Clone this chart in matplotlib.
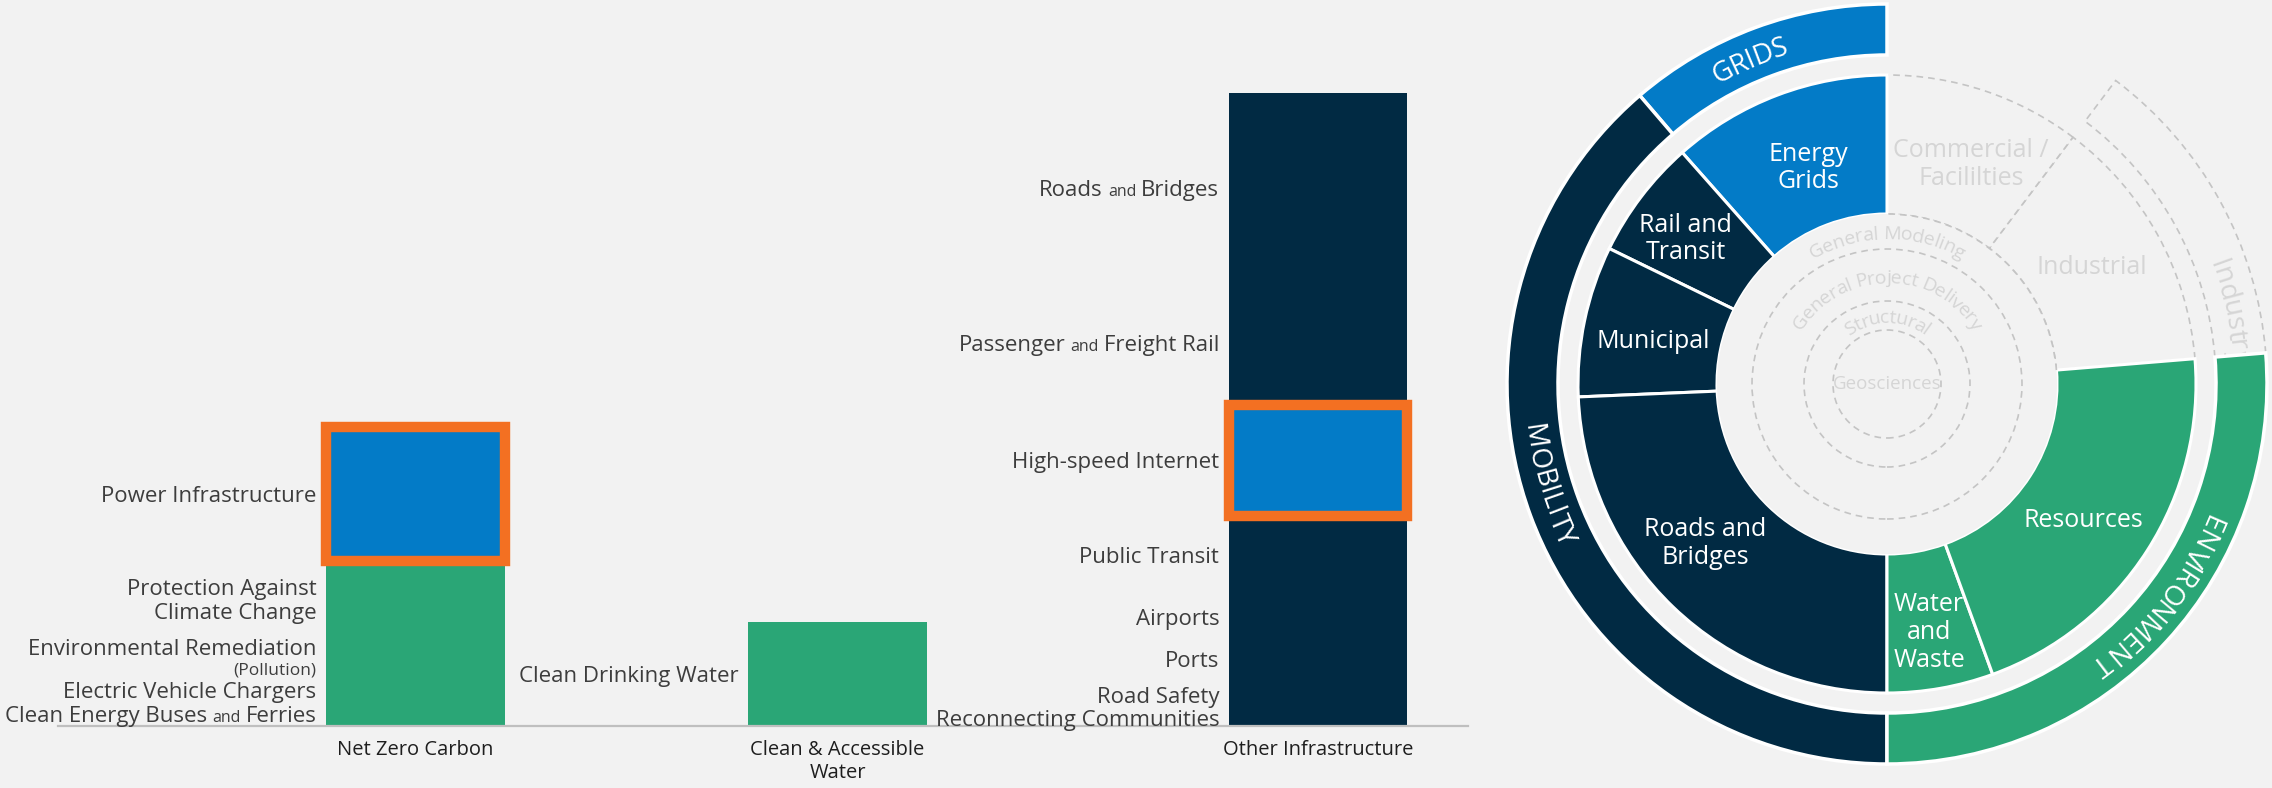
import matplotlib
matplotlib.use('Agg')
import matplotlib.pyplot as plt
import numpy as np
from matplotlib.patches import Wedge, Rectangle, Circle, Arc
from matplotlib.transforms import offset_copy

plt.rcParams['font.family'] = ['Open Sans', 'DejaVu Sans']

##
# DATA
categories = ['Net Zero Carbon', 'Clean & Accessible\nWater', 'Other Infrastructure']

# stacked segments, bottom to top (approx. $B)
net_zero_labels = ['Clean Energy Buses and Ferries', 'Electric Vehicle Chargers',
                   'Environmental Remediation\n(Pollution)', 'Protection Against\nClimate Change',
                   'Power Infrastructure']
net_zero_values = [12.6, 12.6, 21.6, 40.0, 70.5]
water_labels = ['Clean Drinking Water']
water_values = [54.7]
other_labels = ['Reconnecting Communities', 'Road Safety', 'Ports', 'Airports', 'Public Transit',
                'High-speed Internet', 'Passenger and Freight Rail', 'Roads and Bridges']
other_values = [7.9, 16.8, 21.0, 23.7, 41.3, 58.4, 64.5, 99.5]
highlighted = ['Power Infrastructure', 'High-speed Internet']

# wheel: angular spans in degrees, counter-clockwise from the start angle
sector_labels = ['Industrial', 'Commercial /\nFacililties', 'Energy\nGrids', 'Rail and\nTransit',
                 'Municipal', 'Roads and\nBridges', 'Water\nand\nWaste', 'Resources']
sector_spans = [48.3, 37.0, 41.5, 22.5, 28.4, 87.6, 20.0, 74.7]
sector_group = ['none', 'none', 'grids', 'mobility', 'mobility', 'mobility', 'env', 'env']
ring_labels = ['Industry', '', 'GRIDS', 'MOBILITY', 'ENVIRONMENT']
ring_spans = [48.3, 37.0, 40.6, 139.4, 94.7]
ring_group = ['none', 'blank', 'grids', 'mobility', 'env']
hub_labels = ['General Modeling', 'General Project Delivery', 'Structural', 'Geosciences']

##
# STYLE / LAYOUT
BG = '#f2f2f2'
NAVY = '#012a43'
BLUE = '#037bc7'
GREEN = '#2aa676'
ORANGE = '#f37022'
TXT = '#3d3d3d'
FAINT = '#d5d5d5'
DASH = '#c4c4c4'
group_color = {'grids': BLUE, 'mobility': NAVY, 'env': GREEN}
BIG, SMALL, PAREN = 16, 11.5, 12.5
# label placement (angle, radius) inside the wheel
sector_label_pos = [(29.6, 235), (69.1, 235), (110.1, 230), (144.2, 248),
                    (169.8, 238), (221.3, 242), (279.6, 252), (325.2, 239)]
ring_label_angle = [20.5, None, 113.0, 196.5, 322.0]

fig = plt.figure(figsize=(22.72, 7.88), dpi=100, facecolor=BG)
renderer = fig.canvas.get_renderer()


def width_px(s, size):
    t = fig.text(0, 0, s, fontsize=size)
    w = t.get_window_extent(renderer).width
    t.remove()
    return w


def split_line(ln):
    if ln.startswith('('):
        return [(ln, PAREN)]
    out = []
    for i, p in enumerate(ln.split(' and ')):
        if i:
            out.append(('and', SMALL))
        out.append((p, BIG))
    return out


def rich_label(ax, x, y, text, gap=10):
    """right-aligned label, small 'and' / '(...)' pieces"""
    lines = [split_line(ln) for ln in text.split('\n')]
    sizes = [max(s for _, s in ln) * 100 / 72 for ln in lines]
    centers = [0.0]
    for k in range(1, len(lines)):
        centers.append(centers[-1] - 0.55 * (sizes[k - 1] + sizes[k]))
    shift = (centers[0] + centers[-1]) / 2
    for ln, sz, c in zip(lines, sizes, centers):
        yoff = c - shift - 0.36 * sz
        xoff = -gap
        for txt, fs in reversed(ln):
            tr = offset_copy(ax.transData, fig=fig, x=xoff, y=yoff, units='dots')
            ax.text(x, y, txt, ha='right', va='baseline', fontsize=fs, color=TXT, transform=tr)
            xoff -= width_px(txt, fs) + 5


##
# BAR CHART
ax = fig.add_axes([58 / 2272, 62 / 788, 1410 / 2272, 686 / 788])
ax.set_facecolor('none')
PX = 1.9  # pixels per unit
ax.set_ylim(0, 686 / PX)
pos = [0, 1, 2.139]
bw = 0.422
ax.set_xlim(-0.847, 2.494)

stacks = [(net_zero_labels, net_zero_values, GREEN),
          (water_labels, water_values, GREEN),
          (other_labels, other_values, NAVY)]
for p, (labels, values, base) in zip(pos, stacks):
    bottom = 0
    for lab, val in zip(labels, values):
        hl = lab in highlighted
        ax.bar(p, val, bottom=bottom, width=bw, color=BLUE if hl else base, linewidth=0)
        if hl:
            ax.add_patch(Rectangle((p - bw / 2, bottom), bw, val, fill=False,
                                   edgecolor=ORANGE, lw=7.5, clip_on=False, zorder=4))
        rich_label(ax, p - bw / 2, bottom + val / 2, lab)
        bottom += val

for s in ['top', 'right', 'left']:
    ax.spines[s].set_visible(False)
ax.spines['bottom'].set_color('#bfbfbf')
ax.spines['bottom'].set_linewidth(1.6)
ax.set_yticks([])
ax.set_xticks(pos, categories)
ax.tick_params(axis='x', length=0, pad=10, labelsize=14.5, labelcolor='#1e1e1e')

##
# WHEEL
ax2 = fig.add_axes([1440 / 2272, 0, 832 / 2272, 1])
ax2.set_xlim(1440, 2272)
ax2.set_ylim(0, 788)
ax2.axis('off')
cx, cy = 1887, 404
R_HUB, R_IN, R_RING, R_OUT = 170, 309, 329, 380
START = 4.7


def polar(r, th):
    return cx + r * np.cos(np.radians(th)), cy + r * np.sin(np.radians(th))


def arc_text(s, r, th_c, size, color, cw=True, zorder=6, anchor='center'):
    total = width_px(s, size)
    half_cap = 0.36 * size * 100 / 72
    rb = r - half_cap if cw else r + half_cap
    if anchor == 'start':  # th_c is where the text begins
        th_c = th_c - np.degrees(total / 2 / r) if cw else th_c + np.degrees(total / 2 / r)
    for i, ch in enumerate(s):
        if ch == ' ':
            continue
        c = width_px(s[:i + 1], size) - width_px(ch, size) / 2 - total / 2
        d = np.degrees(c / r)
        th = th_c - d if cw else th_c + d
        rot = th - 90 if cw else th + 90
        x, y = polar(rb, th)
        ax2.text(x, y, ch, rotation=rot, rotation_mode='anchor', ha='center', va='baseline',
                 fontsize=size, color=color, zorder=zorder)


a0 = START
for lab, span, grp, (th_l, r_l) in zip(sector_labels, sector_spans, sector_group, sector_label_pos):
    a1 = a0 + span
    if grp == 'none':
        ax2.add_patch(Wedge((cx, cy), R_IN, a0, a1, width=R_IN - R_HUB, facecolor=BG,
                            edgecolor=DASH, lw=1.2, ls=(0, (4, 3)), zorder=1))
        col = FAINT
    else:
        ax2.add_patch(Wedge((cx, cy), R_IN, a0, a1, width=R_IN - R_HUB,
                            facecolor=group_color[grp], edgecolor='white', lw=2.2, zorder=2))
        col = 'white'
    x, y = polar(r_l, th_l)
    ax2.text(x, y, lab, ha='center', va='center', fontsize=18, color=col, linespacing=1.15, zorder=6)
    a0 = a1

a0 = START
rm = (R_RING + R_OUT) / 2
for lab, span, grp, th_l in zip(ring_labels, ring_spans, ring_group, ring_label_angle):
    a1 = a0 + span
    if grp == 'none':
        ax2.add_patch(Wedge((cx, cy), R_OUT, a0, a1, width=R_OUT - R_RING, facecolor=BG,
                            edgecolor=DASH, lw=1.2, ls=(0, (4, 3)), zorder=1))
        # runs underneath the next ring segment, as in the source graphic
        arc_text(lab, rm, th_l, 20, FAINT, cw=True, zorder=1.5, anchor='start')
    elif grp != 'blank':
        ax2.add_patch(Wedge((cx, cy), R_OUT, a0, a1, width=R_OUT - R_RING,
                            facecolor=group_color[grp], edgecolor='white', lw=2.5, zorder=2))
        arc_text(lab, rm, th_l, 20, 'white', cw=(grp != 'mobility'))
    a0 = a1

# hub
ax2.add_patch(Circle((cx, cy), R_HUB, facecolor=BG, edgecolor='none', zorder=3))
ax2.add_patch(Arc((cx, cy), 2 * R_HUB, 2 * R_HUB, theta1=START, theta2=90, color=DASH,
                  lw=1.2, ls=(0, (4, 3)), zorder=4))
for r in [135, 83, 54]:
    ax2.add_patch(Circle((cx, cy), r, fill=False, edgecolor=DASH, lw=1.2, ls=(0, (4, 3)), zorder=4))
for lab, r in zip(hub_labels[:3], [152, 108, 68]):
    arc_text(lab, r, 90, 14, FAINT, cw=True)
ax2.text(cx, cy, hub_labels[3], ha='center', va='center', fontsize=13.5, color=FAINT, zorder=6)

fig.savefig('out.png', dpi=100, facecolor=BG)
